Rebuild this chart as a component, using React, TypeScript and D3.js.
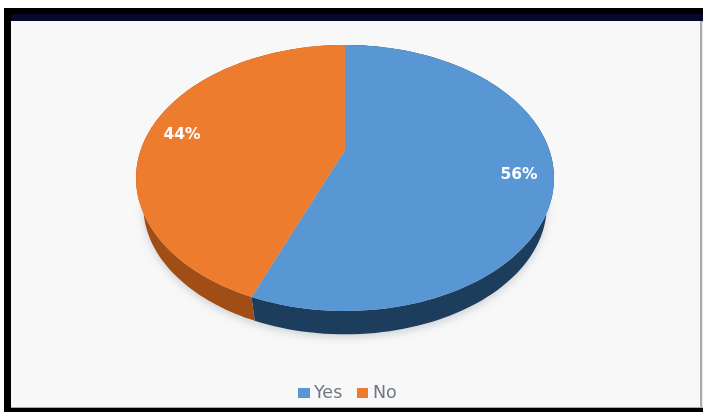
import React from "react";
import * as d3 from "d3";

const categories = ["Yes", "No"];
const shares = [56, 44];
const topColors = ["#5897d3", "#ed7c2e"];
const sideColors = ["#1e3d5c", "#a14e16"];
const legendTextColor = "#6f7781";

const width = 703;
const height = 412;

// Tilted-disc projection: the hub sits above the centre of the visible ellipse.
const hub = { x: 345, y: 150 };
const scaleX = 204.3;
const scaleY = 127.1;
const tilt = -0.2105;

// The underside of the disc is a slightly smaller ellipse, lower on the page.
const topCentreY = 178;
const bottomCentreY = 206;
const bottomScale = 0.965;

const project = (angle: number): [number, number] => {
  const u = Math.sin(angle);
  const v = -Math.cos(angle);
  const w = 1 + tilt * v;
  return [hub.x + (scaleX * u) / w, hub.y + (scaleY * v) / w];
};

const projectBottom = (angle: number): [number, number] => {
  const [x, y] = project(angle);
  return [
    hub.x + (x - hub.x) * bottomScale,
    bottomCentreY + (y - topCentreY) * bottomScale,
  ];
};

const sampleArc = (
  start: number,
  end: number,
  at: (angle: number) => [number, number] = project
) => d3.range(0, 121).map((i) => at(start + ((end - start) * i) / 120));

const pieLayout = d3.pie<number>().sort(null);
const slices = pieLayout(shares);
const line = d3.line();

export default function App() {
  return (
    <svg
      width={width}
      height={height}
      viewBox={`0 0 ${width} ${height}`}
      style={{ position: "fixed", left: 0, top: 0, display: "block" }}
    >
      <defs>
        <filter id="soft" x="-10%" y="-10%" width="120%" height="120%">
          <feGaussianBlur stdDeviation="0.75" />
        </filter>
        <filter id="shadow" x="-10%" y="-10%" width="120%" height="130%">
          <feGaussianBlur stdDeviation="4" />
        </filter>
      </defs>
      <rect width={width} height={height} fill="#ffffff" />
      {/* Dark frame around the slide */}
      <rect x={4} y={8} width={699} height={404} fill="#000000" />
      <rect x={11} y={14} width={692} height={7} fill="#050a2c" />
      <rect x={11} y={21} width={692} height={387} fill="#e8e8ea" />
      <rect x={700} y={21} width={2} height={387} fill="#a9abad" />
      <rect x={11} y={407} width={692} height={1} fill="#a9abad" />
      <rect x={11} y={21} width={689} height={386} fill="#f8f8f9" />

      <g filter="url(#soft)">
        {/* Shadow under the disc */}
        <path
          d={line(sampleArc(0, Math.PI * 2, projectBottom).map(([x, y]) => [x, y + 3])) + "Z"}
          fill="#9aa0a8"
          opacity={0.45}
          filter="url(#shadow)"
        />
        {/* Rim of each slice */}
        {slices.map((s, i) => (
          <path
            key={`side-${categories[i]}`}
            d={
              line([
                ...sampleArc(s.startAngle, s.endAngle),
                ...sampleArc(s.startAngle, s.endAngle, projectBottom).reverse(),
              ]) + "Z"
            }
            fill={sideColors[i]}
          />
        ))}
        {/* Top face of each slice */}
        {slices.map((s, i) => (
          <path
            key={`top-${categories[i]}`}
            d={line([[hub.x, hub.y], ...sampleArc(s.startAngle, s.endAngle)]) + "Z"}
            fill={topColors[i]}
          />
        ))}
        {/* Percentage labels */}
        <g
          fontFamily="'DejaVu Sans', sans-serif"
          fontWeight={700}
          fontSize={15.5}
          fill="#ffffff"
          textAnchor="middle"
        >
          <text x={519} y={179}>{`${shares[0]}%`}</text>
          <text x={182} y={139}>{`${shares[1]}%`}</text>
        </g>
        {/* Legend */}
        <g fontFamily="'DejaVu Sans', sans-serif" fontSize={17.5} fill={legendTextColor}>
          <rect x={298} y={388} width={12} height={10} fill={topColors[0]} />
          <text x={314} y={398}>{categories[0]}</text>
          <rect x={357} y={388} width={11} height={10} fill={topColors[1]} />
          <text x={373} y={398}>{categories[1]}</text>
        </g>
      </g>
    </svg>
  );
}
